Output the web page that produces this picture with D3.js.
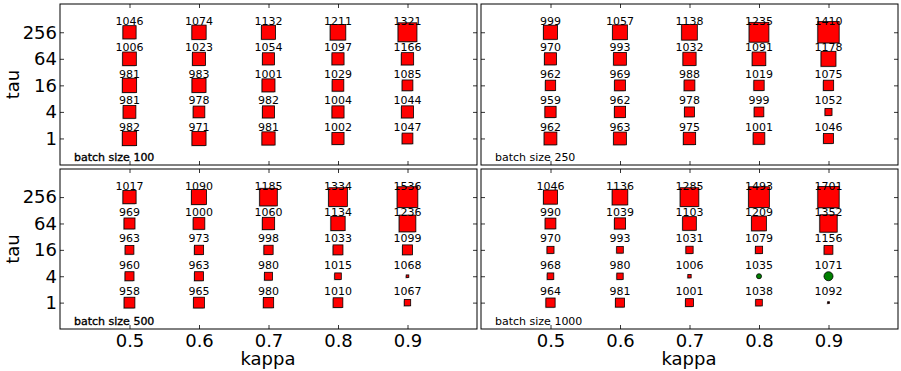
<!DOCTYPE html>
<html>
<head>
<meta charset="utf-8">
<script src="https://cdn.jsdelivr.net/npm/d3@7"></script>
<style>
  body { margin: 0; background: #fff; }
  svg { font-family: "DejaVu Sans", sans-serif; }
</style>
</head>
<body>
<div id="chart"></div>
<script>
// axes values
const kappas = [0.5, 0.6, 0.7, 0.8, 0.9];
const taus = [256, 64, 16, 4, 1]; // rows, top to bottom
const batchSizes = [100, 250, 500, 1000];

// printed numbers, one row per tau (256 .. 1), one column per kappa
const labels100 = [
  [1046, 1074, 1132, 1211, 1321],
  [1006, 1023, 1054, 1097, 1166],
  [981, 983, 1001, 1029, 1085],
  [981, 978, 982, 1004, 1044],
  [982, 971, 981, 1002, 1047]
];
const labels250 = [
  [999, 1057, 1138, 1235, 1410],
  [970, 993, 1032, 1091, 1178],
  [962, 969, 988, 1019, 1075],
  [959, 962, 978, 999, 1052],
  [962, 963, 975, 1001, 1046]
];
const labels500 = [
  [1017, 1090, 1185, 1334, 1536],
  [969, 1000, 1060, 1134, 1236],
  [963, 973, 998, 1033, 1099],
  [960, 963, 980, 1015, 1068],
  [958, 965, 980, 1010, 1067]
];
const labels1000 = [
  [1046, 1136, 1285, 1493, 1701],
  [990, 1039, 1103, 1209, 1352],
  [970, 993, 1031, 1079, 1156],
  [968, 980, 1006, 1035, 1071],
  [964, 981, 1001, 1038, 1092]
];

// marker magnitude (relative), negative values are drawn as green circles
const weights100 = [
  [0.60, 0.65, 0.64, 0.71, 0.86],
  [0.62, 0.60, 0.55, 0.55, 0.56],
  [0.65, 0.64, 0.59, 0.53, 0.49],
  [0.58, 0.53, 0.55, 0.55, 0.55],
  [0.65, 0.64, 0.60, 0.55, 0.49]
];
const weights250 = [
  [0.64, 0.67, 0.71, 0.90, 0.97],
  [0.55, 0.58, 0.60, 0.62, 0.68],
  [0.47, 0.49, 0.49, 0.47, 0.47],
  [0.51, 0.51, 0.45, 0.44, 0.32],
  [0.58, 0.58, 0.56, 0.53, 0.45]
];
const weights500 = [
  [0.60, 0.68, 0.80, 0.85, 0.94],
  [0.50, 0.53, 0.56, 0.65, 0.76],
  [0.40, 0.42, 0.42, 0.45, 0.45],
  [0.41, 0.41, 0.36, 0.30, 0.12],
  [0.49, 0.49, 0.47, 0.44, 0.29]
];
const weights1000 = [
  [0.64, 0.71, 0.85, 0.94, 0.97],
  [0.49, 0.51, 0.62, 0.67, 0.79],
  [0.32, 0.30, 0.33, 0.33, 0.40],
  [0.30, 0.29, 0.15, -0.23, -0.41],
  [0.42, 0.41, 0.36, 0.30, 0.08]
];

const allLabels = [labels100, labels250, labels500, labels1000];
const allWeights = [weights100, weights250, weights500, weights1000];

const width = 901, height = 371;
const colX = [[60, 477], [481, 898]];
const rowY = [[4, 165], [169, 329]];

const svg = d3.select("#chart").append("svg")
  .attr("width", width)
  .attr("height", height);

const side = d3.scaleLinear().domain([0, 1]).range([0, 22]);

batchSizes.forEach((bs, i) => {
  const col = i % 2, row = Math.floor(i / 2);
  const [x0, x1] = colX[col];
  const [y0, y1] = rowY[row];

  const x = d3.scaleLinear().domain([0.4, 1.0]).range([x0, x1]);
  const y = d3.scaleLog().base(4).domain([0.25, 1120]).range([y1, y0]);

  const g = svg.append("g");

  // cells
  const cells = [];
  taus.forEach((t, r) => kappas.forEach((k, c) => {
    cells.push({ tau: t, kappa: k, label: allLabels[i][r][c], w: allWeights[i][r][c] });
  }));

  const squares = cells.filter(d => d.w >= 0);
  const circles = cells.filter(d => d.w < 0);

  // faint shadow
  g.selectAll("rect.shadow").data(squares).enter().append("rect")
    .attr("class", "shadow")
    .attr("x", d => x(d.kappa) - side(d.w) / 2 - 1)
    .attr("y", d => y(d.tau) - side(d.w) / 2 + 1)
    .attr("width", d => side(d.w))
    .attr("height", d => side(d.w))
    .attr("fill", "#c8c8c8");

  g.selectAll("rect.cell").data(squares).enter().append("rect")
    .attr("class", "cell")
    .attr("x", d => x(d.kappa) - side(d.w) / 2)
    .attr("y", d => y(d.tau) - side(d.w) / 2)
    .attr("width", d => side(d.w))
    .attr("height", d => side(d.w))
    .attr("fill", "#ff0000")
    .attr("stroke", "#000")
    .attr("stroke-width", 0.8);

  g.selectAll("circle.cell").data(circles).enter().append("circle")
    .attr("class", "cell")
    .attr("cx", d => x(d.kappa))
    .attr("cy", d => y(d.tau))
    .attr("r", d => side(-d.w) / 2)
    .attr("fill", "#008000")
    .attr("stroke", "#000")
    .attr("stroke-width", 0.8);

  g.selectAll("text.num").data(cells).enter().append("text")
    .attr("class", "num")
    .attr("x", d => x(d.kappa))
    .attr("y", d => y(d.tau) - 7.5)
    .attr("text-anchor", "middle")
    .attr("font-size", 11)
    .attr("fill", "#000")
    .text(d => d.label);

  // ticks on all four sides, pointing inward
  const xb = d3.axisBottom(x).tickValues(kappas).tickSize(-4).tickPadding(5)
    .tickFormat(row === 1 ? d3.format(".1f") : () => "");
  const xt = d3.axisTop(x).tickValues(kappas).tickSize(-4).tickFormat(() => "");
  const yl = d3.axisLeft(y).tickValues(taus).tickSize(-4).tickPadding(3)
    .tickFormat(col === 0 ? d3.format("d") : () => "");
  const yr = d3.axisRight(y).tickValues(taus).tickSize(-4).tickFormat(() => "");

  [[xb, `translate(0,${y1})`], [xt, `translate(0,${y0})`],
   [yl, `translate(${x0},0)`], [yr, `translate(${x1},0)`]].forEach(([ax, tr]) => {
    const a = g.append("g").attr("transform", tr).call(ax);
    a.select(".domain").remove();
    a.selectAll("text").attr("font-size", 18).attr("font-family", "DejaVu Sans, sans-serif").attr("fill", "#000");
    a.selectAll("line").attr("stroke", "#000").attr("stroke-width", 0.8);
  });

  g.append("rect")
    .attr("x", x0).attr("y", y0)
    .attr("width", x1 - x0).attr("height", y1 - y0)
    .attr("fill", "none")
    .attr("stroke", "#000")
    .attr("stroke-width", 1);

  g.append("text")
    .attr("x", x0 + 14)
    .attr("y", y1 - 4.5)
    .attr("font-size", 11)
    .attr("fill", "#000")
    .attr("stroke", col === 0 ? "#000" : "none")
    .attr("stroke-width", 0.35)
    .text(`batch size ${bs}`);

  if (col === 0) {
    svg.append("text")
      .attr("transform", `translate(19,${(y0 + y1) / 2}) rotate(-90)`)
      .attr("text-anchor", "middle")
      .attr("font-size", 18)
      .text("tau");
  }
  if (row === 1) {
    svg.append("text")
      .attr("x", (x0 + x1) / 2 - 0.5)
      .attr("y", 365)
      .attr("text-anchor", "middle")
      .attr("font-size", 18)
      .text("kappa");
  }
});
</script>
</body>
</html>
